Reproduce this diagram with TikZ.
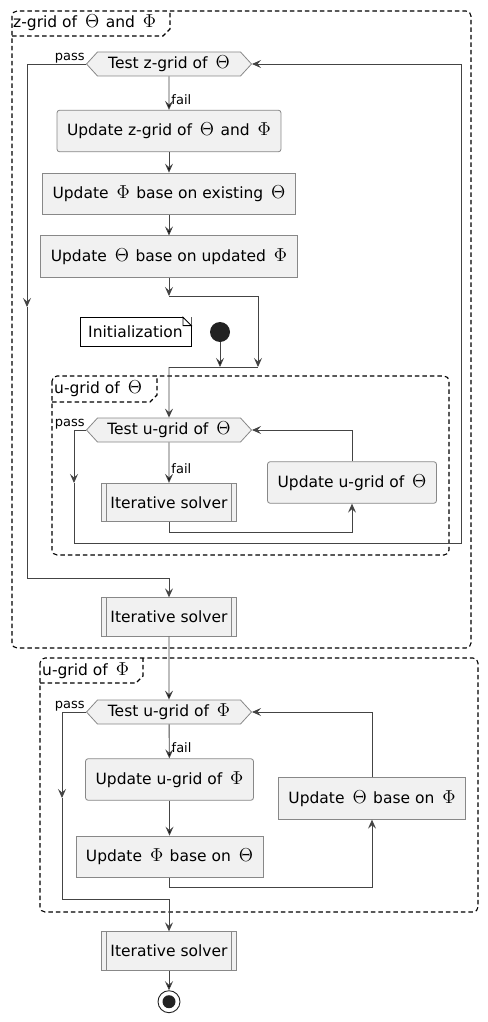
\documentclass[tikz,border=0pt]{standalone}
\usepackage{fontspec}
\setmainfont{DejaVu Sans}
\usepackage{graphicx}
\usepackage{tikz}
\usetikzlibrary{arrows.meta}
\usetikzlibrary{positioning}
\usetikzlibrary{shapes.symbols}
\usetikzlibrary{calc}
\definecolor{boxfill}{HTML}{F1F1F1}
\definecolor{boxline}{HTML}{888888}
\definecolor{wire}{HTML}{444444}
\definecolor{dot}{HTML}{222222}
\newcommand{\Thet}{\hspace{3pt}\scalebox{1.3}{$\Theta$}\hspace{1.5pt}}
\newcommand{\Phii}{\hspace{3pt}\scalebox{1.3}{$\Phi$}\hspace{1.5pt}}

\begin{document}
\begin{tikzpicture}[x=1pt,y=-1pt,->,>={Stealth[length=9pt,width=8pt,inset=3.5pt]},
    wire/.style={draw=wire,line width=0.9pt},
    every node/.style={font=\fontsize{15.5}{17}\selectfont},
    action node/.style={draw=boxline,fill=boxfill,rounded corners=2.5pt,minimum height=41.5pt,inner xsep=10pt,line width=0.8pt},
    plain node/.style={draw=boxline,fill=boxfill,minimum height=41.5pt,inner xsep=10pt,line width=0.8pt},
    solver node/.style={draw=boxline,fill=boxfill,minimum height=38.5pt,minimum width=135pt,line width=0.8pt,
      path picture={\draw[-,boxline,line width=0.8pt]
        ([xshift=5pt]path picture bounding box.north west) -- ([xshift=5pt]path picture bounding box.south west)
        ([xshift=-5pt]path picture bounding box.north east) -- ([xshift=-5pt]path picture bounding box.south east);}},
    test node/.style={signal,signal to=west and east,signal pointer angle=95,draw=boxline,fill=boxfill,
      minimum height=24pt,minimum width=165pt,inner sep=0pt,line width=0.8pt},
    edge label/.style={font=\fontsize{13}{14}\selectfont,inner sep=1pt},
    group/.style={-,draw=black,line width=1.1pt,dash pattern=on 4.5pt off 3pt},
    group label/.style={anchor=west,inner sep=0pt}]

  \useasboundingbox (0,0) rectangle (487,1022);

  % groups
  \draw[group,rounded corners=5pt] (12,11) rectangle (471,648);
  \draw[group] (12,36) -- (163,36) -- (170,29) -- (170,11);
  \node[group label] (zlab) at (13,23) {z-grid of \Thet{} and \Phii};

  \draw[group,rounded corners=5pt] (52,376) rectangle (449,555);
  \draw[group] (52,402) -- (150,402) -- (157,395) -- (157,376);
  \node[group label] (utlab) at (54,389) {u-grid of \Thet};

  \draw[group,rounded corners=5pt] (40,658) rectangle (478,912);
  \draw[group] (40,683) -- (136,683) -- (143,676) -- (143,658);
  \node[group label] (uplab) at (42,671) {u-grid of \Phii};

  % z-grid loop
  \node[test node] (zt) at (169,64) {Test z-grid of \Thet};
  \node[action node] (upd1) at (169,131) {Update z-grid of \Thet{} and \Phii};
  \node[plain node, below=20.5pt of upd1] (upd2) {Update \Phii{} base on existing \Thet};
  \node[plain node, below=20.5pt of upd2] (upd3) {Update \Thet{} base on updated \Phii};
  \coordinate (m1) at (169,296);
  \coordinate (m1r) at (258,296);
  \coordinate (m2) at (169,367);
  \coordinate (m2r) at (258,367);
  \node[draw=black,fill=white,line width=0.8pt,inner xsep=5pt,minimum height=29pt,minimum width=111pt] (init) at (135.5,332) {Initialization};
  \fill[white] ($(init.north east)+(-8.5,0)$) -- (init.north east) -- ($(init.north east)+(0,8.5)$) -- cycle;
  \draw[-,line width=0.8pt] ($(init.north east)+(-8.5,0)$) -- ($(init.north east)+(0,8.5)$)
    -- ($(init.north east)+(-8.5,8.5)$) -- cycle;
  \node[circle,fill=dot,inner sep=0pt,minimum size=20pt] (start) at (220,332) {};

  % u-grid of Theta
  \node[test node] (ut) at (169,430) {Test u-grid of \Thet};
  \node[solver node] (solv1) at (169,502.5) {Iterative solver};
  \node[action node] (updu) at (352,482.5) {Update u-grid of \Thet};

  \node[solver node] (solv2) at (169,617) {Iterative solver};

  % u-grid of Phi
  \node[test node] (pt) at (169,712) {Test u-grid of \Phii};
  \node[action node] (updpu) at (169.5,779.5) {Update u-grid of \Phii};
  \node[plain node, below=35pt of updpu] (updpb) {Update \Phii{} base on \Thet};
  \node[plain node] (updtb) at (372,798.5) {Update \Thet{} base on \Phii};

  \node[solver node] (solv3) at (169,951) {Iterative solver};
  \node[circle,draw=dot,fill=white,line width=0.9pt,inner sep=0pt,minimum size=22pt] (stop) at (169,1001.7) {};
  \node[circle,fill=dot,inner sep=0pt,minimum size=13pt] (stopin) at (stop) {};

  \coordinate (zp1) at (27,307);
  \coordinate (up1) at (74,483);
  \coordinate (pp1) at (62,798);

  % connectors
  \path[wire]
    (zt) edge node[edge label,anchor=north west,xshift=1pt] {fail} (upd1)
    (upd1) edge (upd2)
    (upd2) edge (upd3)
    (start) edge (start |- m2)
    (ut) edge node[edge label,anchor=north west,xshift=1pt] {fail} (solv1)
    (pt) edge node[edge label,anchor=north west,xshift=1pt] {fail} (updpu)
    (updpu) edge (updpb)
    (solv2) edge (pt)
    (solv3) edge (stop);
  \draw[wire] (upd3.south) -- (m1);
  \draw[wire,-] (m1) -- (m1r);
  \draw[wire] (m1r) -- (m2r);
  \draw[wire,-] (m2) -- (m2r);
  \draw[wire] (m2) -- (ut);

  % pass branches
  \draw[wire] (zt.west) -| (zp1);
  \draw[wire] (zp1) |- (169,578) -- (solv2);
  \node[edge label,anchor=south east] at (zt.west) {pass};
  \draw[wire] (ut.west) -| (up1);
  \draw[wire] (up1) |- (461,543) |- (zt.east);
  \node[edge label,anchor=south east] at (ut.west) {pass};
  \draw[wire] (pt.west) -| (pp1);
  \draw[wire] (pp1) |- (169,899) -- (solv3);
  \node[edge label,anchor=south east] at (pt.west) {pass};

  % back edges
  \draw[wire] (solv1.south) |- (352,532) -- (updu.south);
  \draw[wire] (updu.north) |- (ut.east);
  \draw[wire] (updpb.south) |- (372,887) -- (updtb.south);
  \draw[wire] (updtb.north) |- (pt.east);
\end{tikzpicture}
\end{document}
